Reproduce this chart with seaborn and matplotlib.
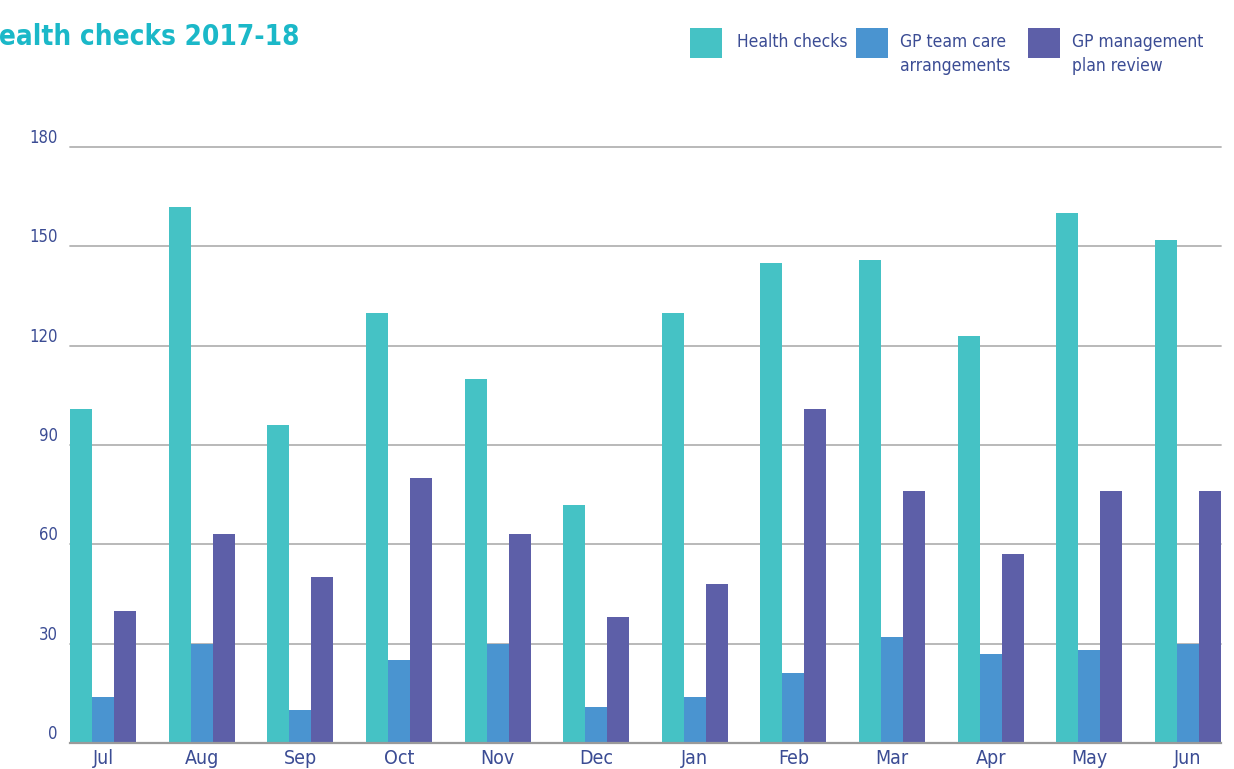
import matplotlib
matplotlib.use("Agg")
import matplotlib.pyplot as plt
from matplotlib.patches import Rectangle
import seaborn as sns
import pandas as pd

months = ["Jul", "Aug", "Sep", "Oct", "Nov", "Dec",
          "Jan", "Feb", "Mar", "Apr", "May", "Jun"]
health_checks = [101, 162, 96, 130, 110, 72, 130, 145, 146, 123, 160, 152]
gp_team_care = [14, 30, 10, 25, 30, 11, 14, 21, 32, 27, 28, 30]
gp_plan_review = [40, 63, 50, 80, 63, 38, 48, 101, 76, 57, 76, 76]

series_names = ["Health checks", "GP team care\narrangements",
                "GP management\nplan review"]
colors = ["#45C2C5", "#4A94D0", "#5D5FA8"]
yticks = [0, 30, 60, 90, 120, 150, 180]

text_color = "#3B4C94"
title_color = "#1BB8C8"

sns.set_theme(style="white")
plt.rcParams["font.family"] = ["DejaVu Sans"]
plt.rcParams["font.stretch"] = "condensed"

df = pd.DataFrame({
    "month": months * 3,
    "series": [series_names[0]] * 12 + [series_names[1]] * 12 + [series_names[2]] * 12,
    "value": health_checks + gp_team_care + gp_plan_review,
})

W, H = 1234, 769
fig = plt.figure(figsize=(W / 100, H / 100), dpi=100)
ax = fig.add_axes([70 / W, 1 - 743 / H, (1221 - 70) / W, (743 - 147) / H])

sns.barplot(data=df, x="month", y="value", hue="series", order=months,
            hue_order=series_names, palette=colors, width=0.67, gap=0,
            saturation=1, errorbar=None, legend=False, ax=ax)
for p in ax.patches:
    p.set_edgecolor("none")

ax.set_xlim(-0.335, 11.335)
ax.set_ylim(0, 180)
ax.set_yticks(yticks)
ax.set_yticklabels([str(v) for v in yticks])
ax.set_xlabel("")
ax.set_ylabel("")

ax.grid(axis="y", color="#B3B3B3", linewidth=1.3)
for gl in ax.get_ygridlines():
    gl.set_clip_on(False)
ax.set_axisbelow(True)
for side in ["top", "right", "left"]:
    ax.spines[side].set_visible(False)
ax.spines["bottom"].set_color("#9A9A9A")
ax.spines["bottom"].set_linewidth(1.6)

ax.tick_params(axis="y", length=0, pad=9, labelsize=12, labelcolor=text_color)
ax.tick_params(axis="x", length=0, pad=4, labelsize=14, labelcolor=text_color)
for lbl in ax.get_yticklabels():
    lbl.set_verticalalignment("bottom")

# Legend keys: square swatches with labels aligned to their first line
key_x = [690, 856, 1028]
label_x = [737, 900, 1072]
for kx, lx, c, name in zip(key_x, label_x, colors, series_names):
    fig.add_artist(Rectangle((kx / W, 1 - 58 / H), 32 / W, 30 / H,
                             transform=fig.transFigure, facecolor=c,
                             edgecolor="none"))
    fig.text(lx / W, 1 - 33 / H, name, fontsize=12.5, color=text_color,
             ha="left", va="top", linespacing=1.45)

# Title, running off the left edge of the figure
title = fig.text(0, 1 - 45 / H, "Health checks 2017-18", fontsize=20,
                 fontweight="bold", color=title_color, ha="left", va="baseline")
renderer = fig.canvas.get_renderer()
probe = fig.text(0, 0, "H", fontsize=20, fontweight="bold")
h_width = probe.get_window_extent(renderer).width
probe.remove()
title.set_x(-(h_width + 1) / W)

fig.savefig("out.png", dpi=100)
